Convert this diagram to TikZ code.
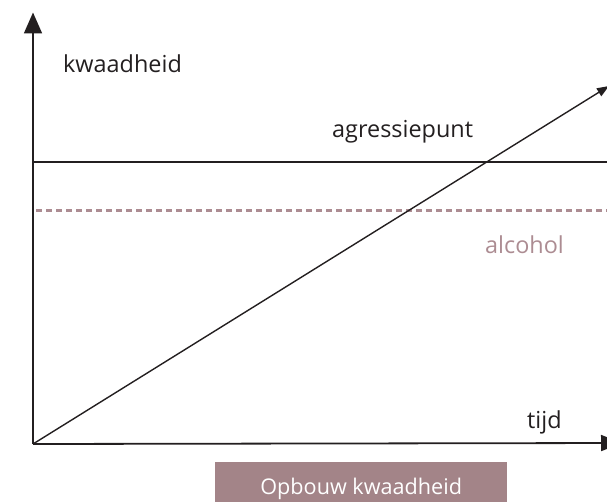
\documentclass[tikz,border=0pt]{standalone}
\usepackage{fontspec}
\setmainfont{Open Sans}
\usetikzlibrary{arrows.meta}
\definecolor{myink}{RGB}{35,31,32}
\definecolor{mymauve}{RGB}{163,132,136}
\definecolor{mylightmauve}{RGB}{172,140,146}
\newcommand{\labelsize}{\fontsize{23.5}{26}\selectfont}
\newcommand{\boxsize}{\fontsize{21.7}{24}\selectfont}
\tikzset{
    axis/.style={draw=myink, line width=1.8bp},
    level/.style={draw=myink, line width=1.4bp},
    axislabel/.style={anchor=base west, inner sep=0pt, text=myink, font=\labelsize},
    footer/.style={anchor=north west, fill=mymauve, text=white, font=\boxsize,
        minimum width=292bp, minimum height=48bp, inner sep=0pt, text depth=0pt}
}
\begin{document}
\begin{tikzpicture}[x=1bp, y=-1bp]
            \useasboundingbox (0,0) rectangle (607,502);
            \coordinate (origin) at (33,444);
            \coordinate (ytop) at (33,12.5);
            \coordinate (xend) at (622,443);
            \coordinate (growth) at (609,86);
            \coordinate (limitL) at (33,162);
            \coordinate (limitR) at (607,162);
            \coordinate (alcoL) at (36,211);
            \coordinate (alcoR) at (607,211);

            \node[axislabel] (anger) at (63,73) {kwaadheid};
            \node[axislabel] (limit) at (332,138) {agressiepunt};
            \node[axislabel, text=mylightmauve] (alcohol) at (485,253) {alcohol};
            \node[axislabel] (time) at (527,428) {tijd};
            \node[footer] (build) at (215,462) {Opbouw kwaadheid};

            \draw[axis, -{Triangle[length=21bp, width=18bp]}] (origin) -- (ytop);
            \draw[axis, -{Triangle[length=21bp, width=16bp]}] (origin) -- (xend);
            \draw[level] (limitL) -- (limitR);
            \draw[mylightmauve, line width=3bp, dash pattern=on 6bp off 4bp] (alcoL) -- (alcoR);
            \draw[level, -{Triangle[length=12bp, width=9bp]}] (origin) -- (growth);
        \end{tikzpicture}
\end{document}
